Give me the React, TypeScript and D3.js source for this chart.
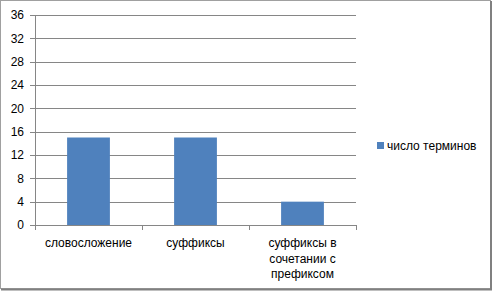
import React from "react";
import * as d3 from "d3";

const categories: string[][] = [
  ["словосложение"],
  ["суффиксы"],
  ["суффиксы в", "сочетании с", "префиксом"],
];
const values: number[] = [15, 15, 4];
const yTicks: number[] = [0, 4, 8, 12, 16, 20, 24, 28, 32, 36];
const seriesName = "число терминов";

const W = 494;
const H = 292;
const FONT = "'Liberation Sans', Arial, sans-serif";
const BAR = "#4F81BD";
const GRID = "#868686";

export default function App() {
  const left = 35;
  const right = 356;
  const top = 15;
  const bottom = 225;
  const keys = categories.map((c) => c.join(" "));
  const x = d3.scaleBand<string>().domain(keys).range([left, right]).paddingInner(0.6).paddingOuter(0.3);
  const xOuter = d3.scaleBand<string>().domain(keys).range([left, right]);
  const y = d3.scaleLinear().domain([0, 36]).range([bottom, top]);

  return (
    <svg width={W} height={H} style={{ position: "absolute", left: 0, top: 0 }}>
      <rect x={0} y={0} width={W} height={H} fill="#fff" />
      <rect x={0.5} y={0.5} width={490} height={288} fill="#fff" stroke="#a0a0a0" strokeWidth={1} />
      <line x1={491} y1={1} x2={491} y2={290} stroke="#808080" strokeWidth={2} />
      <line x1={1} y1={289.5} x2={492} y2={289.5} stroke="#808080" strokeWidth={2} />
      {yTicks.map((t) => (
        <g key={t}>
          <line x1={left - 5} x2={right} y1={Math.round(y(t)) + 0.5} y2={Math.round(y(t)) + 0.5} stroke={GRID} strokeWidth={1} />
          <text x={24} y={y(t)} dy="0.35em" textAnchor="end" fontFamily={FONT} fontSize={12} fill="#000">
            {t}
          </text>
        </g>
      ))}
      <line x1={left + 0.5} x2={left + 0.5} y1={top} y2={bottom + 0.5} stroke={GRID} strokeWidth={1} />
      {keys.map((k, i) => (
        <line key={"t" + i} x1={Math.round((xOuter(k) as number) + xOuter.bandwidth()) + 0.5} x2={Math.round((xOuter(k) as number) + xOuter.bandwidth()) + 0.5} y1={bottom} y2={bottom + 5} stroke={GRID} />
      ))}
      <line x1={left + 0.5} x2={left + 0.5} y1={bottom} y2={bottom + 5} stroke={GRID} />
      {keys.map((k, i) => (
        <rect key={k} x={x(k)} y={y(values[i])} width={x.bandwidth()} height={bottom - y(values[i])} fill={BAR} />
      ))}
      {categories.map((lines, i) => {
        const cx = (xOuter(keys[i]) as number) + xOuter.bandwidth() / 2;
        return (
          <text key={"c" + i} textAnchor="middle" fontFamily={FONT} fontSize={12} fill="#000">
            {lines.map((l, j) => (
              <tspan key={j} x={cx} y={247 + j * 15.6}>
                {l}
              </tspan>
            ))}
          </text>
        );
      })}
      <rect x={377} y={142} width={7} height={7} fill={BAR} />
      <text x={387} y={146} dy="0.35em" fontFamily={FONT} fontSize={12} fill="#000">
        {seriesName}
      </text>
    </svg>
  );
}
